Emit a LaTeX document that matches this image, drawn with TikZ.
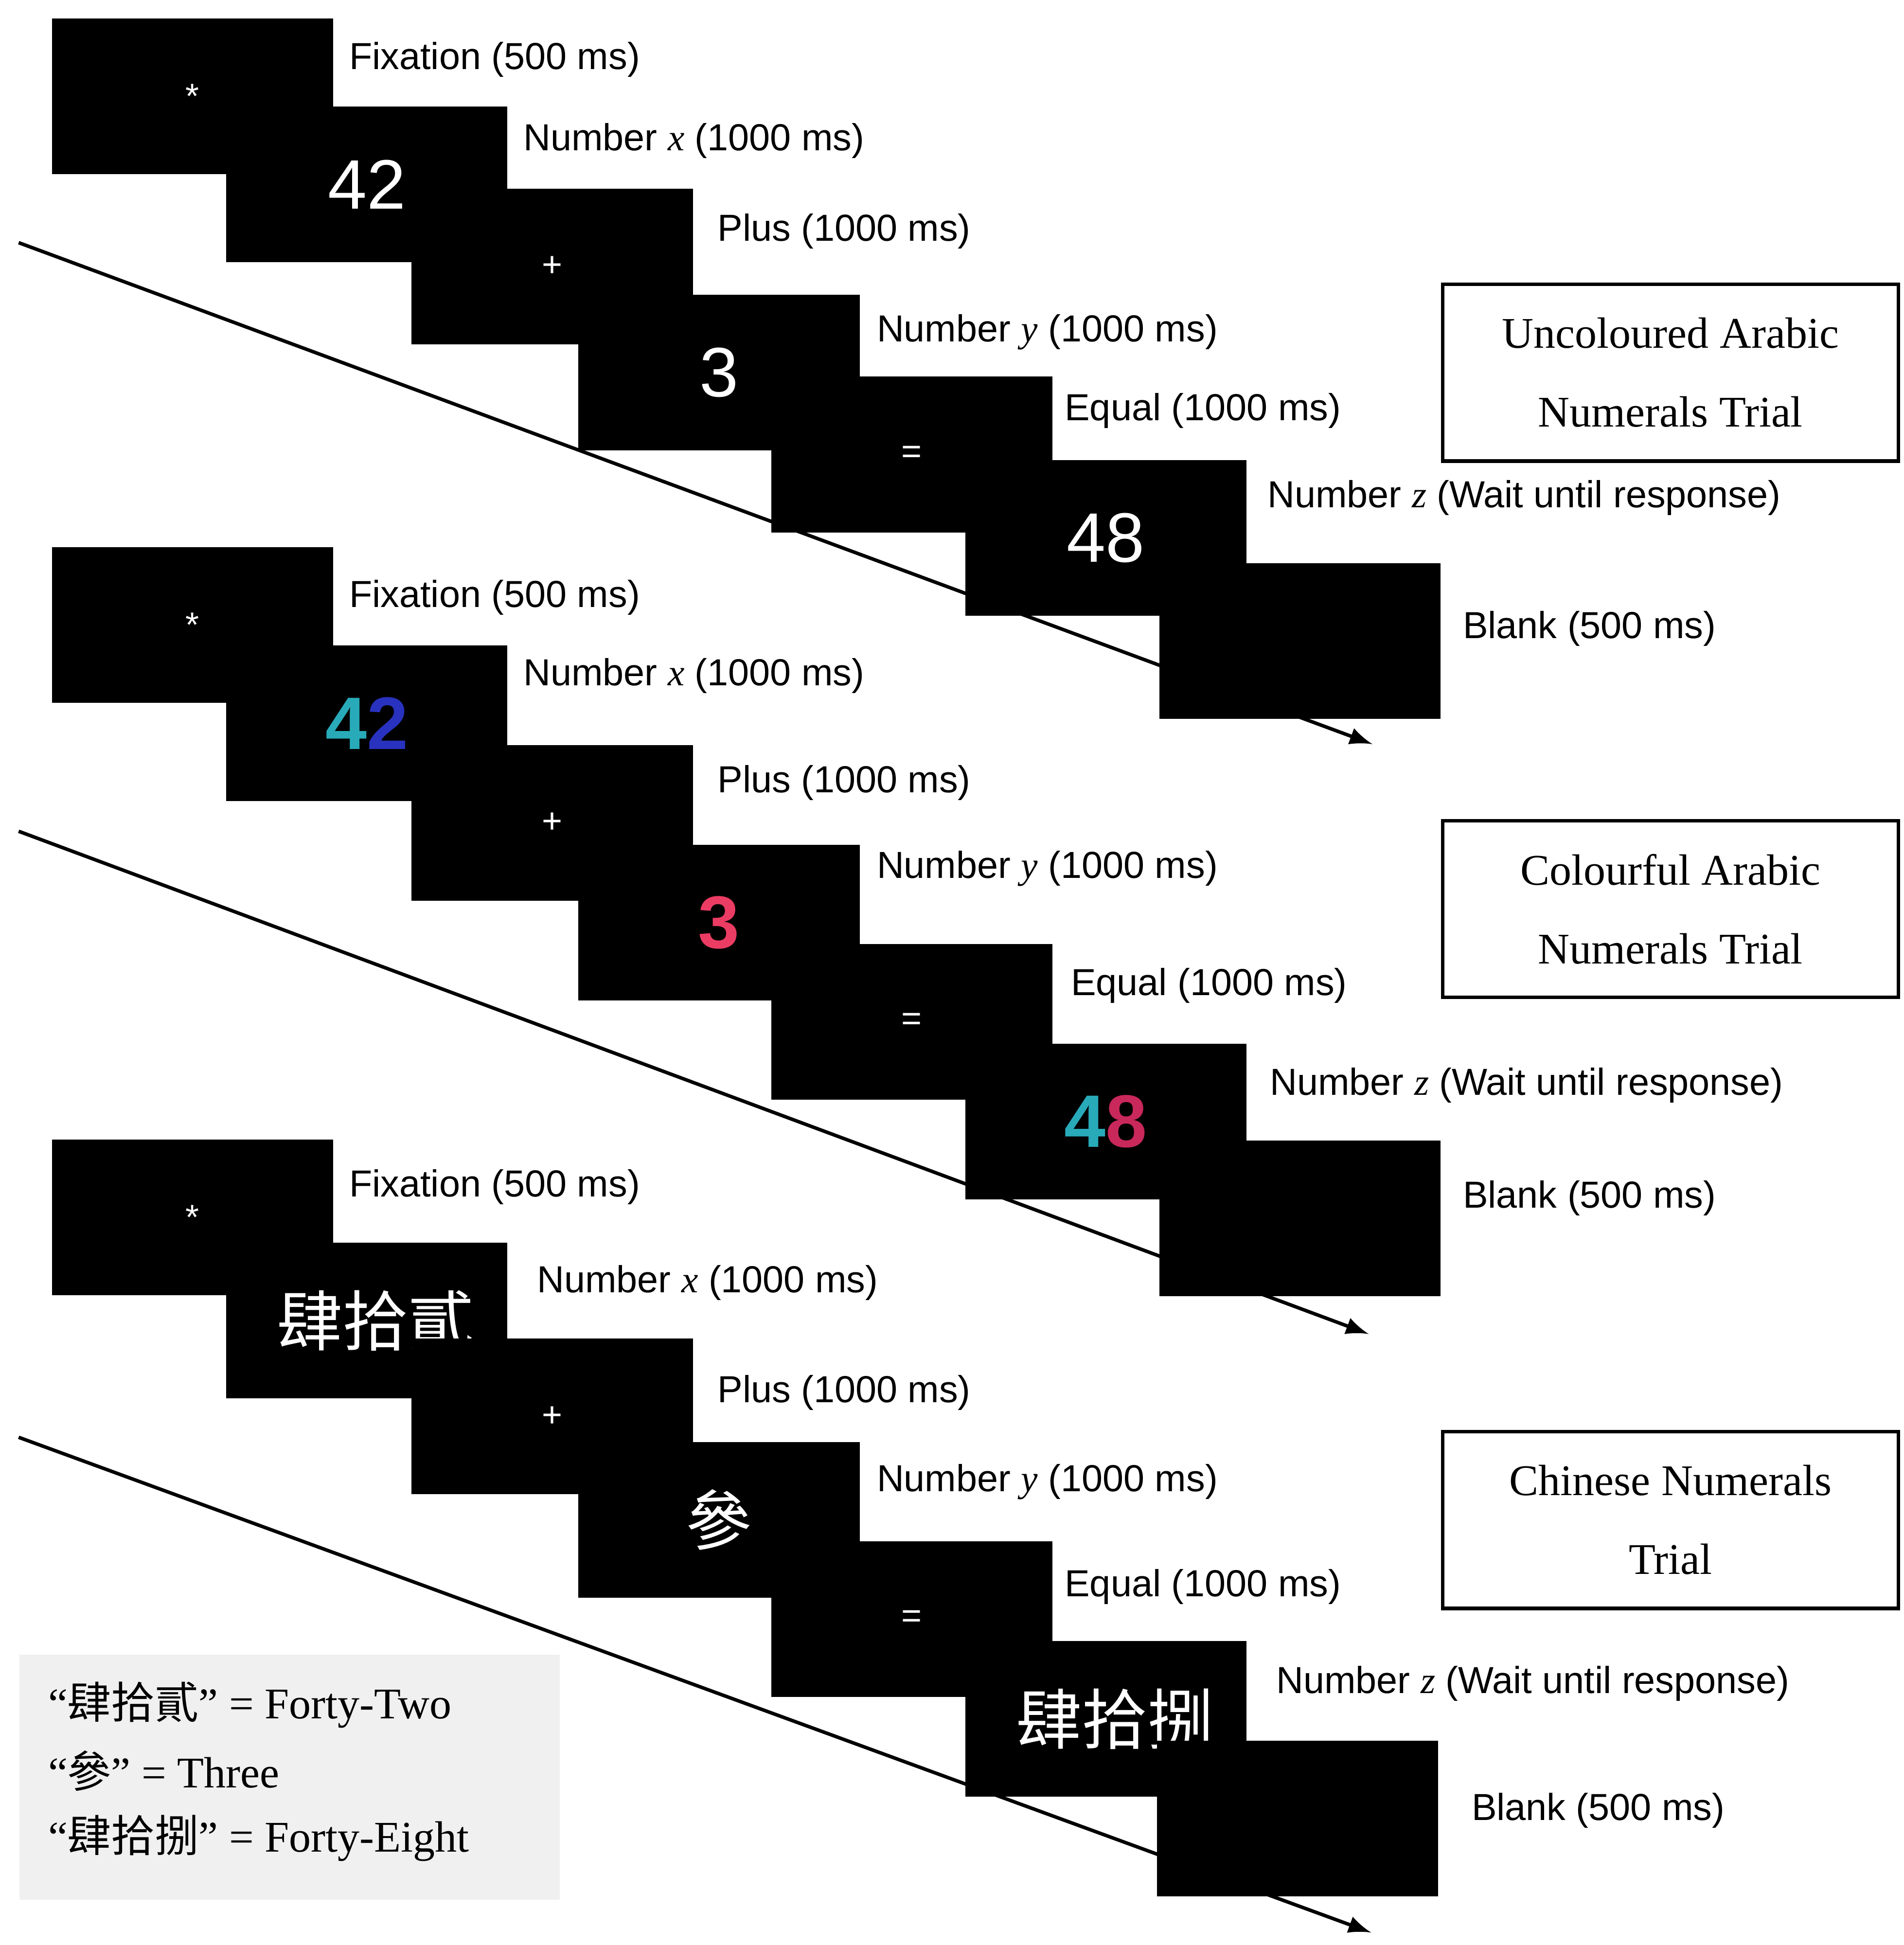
\documentclass[tikz,border=0pt]{standalone}
\usepackage{fontspec}
\setmainfont{Liberation Serif}
\setsansfont{Liberation Sans}
\newfontfamily\cjk{Noto Sans CJK SC}
\usetikzlibrary{positioning}
\definecolor{tealdig}{RGB}{40,170,185}
\definecolor{bluedig}{RGB}{40,50,190}
\definecolor{pinkdig}{RGB}{235,60,100}
\definecolor{roseDig}{RGB}{200,40,90}
\newcommand{\lab}[1]{\fontsize{8.6}{10}\selectfont\sffamily #1}
\newcommand{\vx}[1]{{\rmfamily\itshape #1}}
\begin{document}
\begin{tikzpicture}[x=0.01cm,y=-0.01cm]

\tikzstyle{screen}=[anchor=north west,fill=black,minimum width=2.26cm,
minimum height=1.25cm,inner sep=0pt,text=white,font=\fontsize{16}{16}\selectfont\sffamily]
\tikzstyle{small}=[font=\fontsize{8}{8}\selectfont\sffamily]
\tikzstyle{steplabel}=[anchor=west,inner sep=0pt,font=\lab{}]
\tikzstyle{trialbox}=[anchor=north west,draw=black,thick,minimum width=3.66cm,
minimum height=1.42cm,align=center,font=\fontsize{10}{18}\selectfont]

\useasboundingbox (0,0) rectangle (1530,1563);

% time axes
\coordinate (a1) at (15,195);  \coordinate (b1) at (1103,598);
\coordinate (a2) at (15,668);  \coordinate (b2) at (1100,1072);
\coordinate (a3) at (15,1155); \coordinate (b3) at (1102,1553);
\foreach \i in {1,2,3}
  \draw[thick,-latex] (a\i) -- (b\i);

% block 1
\node[screen,small] (s11) at (41,14) {*};
\node[screen] (s12) at (181,85) {42};
\node[screen,small] (s13) at (330,151) {+};
\node[screen] (s14) at (464,236) {3};
\node[screen,small] (s15) at (619,302) {=};
\node[screen] (s16) at (775,369) {48};
\node[screen] (s17) at (931,452) {};
\node[steplabel] (l11) at (280,48) {Fixation (500 ms)};
\node[steplabel] (l12) at (420,113) {Number \vx{x} (1000 ms)};
\node[steplabel] (l13) at (576,186) {Plus (1000 ms)};
\node[steplabel] (l14) at (704,267) {Number \vx{y} (1000 ms)};
\node[steplabel] (l15) at (855,330) {Equal (1000 ms)};
\node[steplabel] (l16) at (1018,400) {Number \vx{z} (Wait until response)};
\node[steplabel] (l17) at (1175,505) {Blank (500 ms)};
\node[trialbox] (t1) at (1158,227) {Uncoloured Arabic\\Numerals Trial};

% block 2
\node[screen,small] (s21) at (41,439) {*};
\node[screen,font=\fontsize{17}{17}\selectfont\sffamily\bfseries] (s22) at (181,518)
  {\textcolor{tealdig}{4}\textcolor{bluedig}{2}};
\node[screen,small] (s23) at (330,598) {+};
\node[screen,font=\fontsize{17}{17}\selectfont\sffamily\bfseries] (s24) at (464,678)
  {\textcolor{pinkdig}{3}};
\node[screen,small] (s25) at (619,758) {=};
\node[screen,font=\fontsize{17}{17}\selectfont\sffamily\bfseries] (s26) at (775,838)
  {\textcolor{tealdig}{4}\textcolor{roseDig}{8}};
\node[screen] (s27) at (931,916) {};
\node[steplabel] (l21) at (280,480) {Fixation (500 ms)};
\node[steplabel] (l22) at (420,543) {Number \vx{x} (1000 ms)};
\node[steplabel] (l23) at (576,629) {Plus (1000 ms)};
\node[steplabel] (l24) at (704,698) {Number \vx{y} (1000 ms)};
\node[steplabel] (l25) at (860,792) {Equal (1000 ms)};
\node[steplabel] (l26) at (1020,872) {Number \vx{z} (Wait until response)};
\node[steplabel] (l27) at (1175,963) {Blank (500 ms)};
\node[trialbox] (t2) at (1158,658) {Colourful Arabic\\Numerals Trial};

% block 3
\node[screen,small] (s31) at (41,915) {*};
\node[screen,font=\fontsize{15}{15}\cjk] (s32) at (181,998) {\hspace*{4pt}肆拾貳};
\node[screen,small] (s33) at (330,1075) {+};
\node[screen,font=\fontsize{15}{15}\cjk] (s34) at (464,1158) {參};
\node[screen,small] (s35) at (619,1238) {=};
\node[screen,font=\fontsize{15}{15}\cjk] (s36) at (775,1318) {\hspace*{4pt}肆拾捌};
\node[screen] (s37) at (929,1398) {};
\node[steplabel] (l31) at (280,954) {Fixation (500 ms)};
\node[steplabel] (l32) at (431,1031) {Number \vx{x} (1000 ms)};
\node[steplabel] (l33) at (576,1119) {Plus (1000 ms)};
\node[steplabel] (l34) at (704,1191) {Number \vx{y} (1000 ms)};
\node[steplabel] (l35) at (855,1275) {Equal (1000 ms)};
\node[steplabel] (l36) at (1025,1353) {Number \vx{z} (Wait until response)};
\node[steplabel] (l37) at (1182,1455) {Blank (500 ms)};
\node[trialbox] (t3) at (1158,1149) {Chinese Numerals\\Trial};

% legend
\node[anchor=north west,fill=gray!12,minimum width=4.34cm,minimum height=1.97cm] (leg) at (15,1329) {};
\node[anchor=west,inner sep=0pt,font=\fontsize{10}{12}\selectfont] (g1) at (38,1370) {“{\cjk 肆拾貳}” = Forty-Two};
\node[anchor=west,inner sep=0pt,font=\fontsize{10}{12}\selectfont] (g2) at (38,1423) {“{\cjk 參}” = Three};
\node[anchor=west,inner sep=0pt,font=\fontsize{10}{12}\selectfont] (g3) at (38,1477) {“{\cjk 肆拾捌}” = Forty-Eight};
\end{tikzpicture}
\end{document}
